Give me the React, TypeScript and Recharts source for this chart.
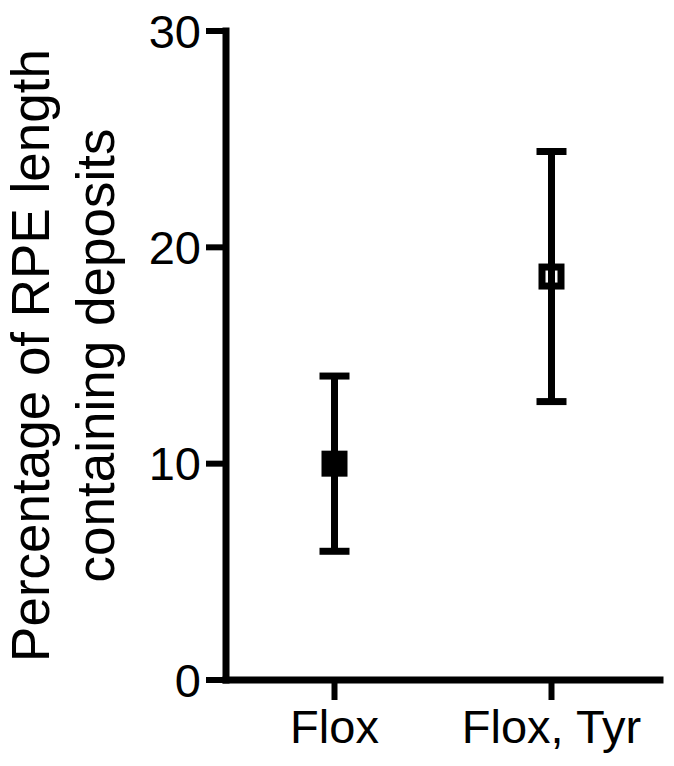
import React from 'react';
import { ComposedChart, Scatter, XAxis, YAxis, ErrorBar, Label } from 'recharts';

const categories = ['Flox', 'Flox, Tyr'];
const means = [10, 18.65];
const errors = [4.05, 5.78];
const filledMarker = [true, false];
const yTicks = [0, 10, 20, 30];
const titleLines = ['Percentage of RPE length', 'containing deposits'];

const data = categories.map((c, i) => ({
  group: c,
  mean: means[i],
  err: errors[i],
  filled: filledMarker[i],
}));

const FONT = '"Liberation Sans", Arial, Helvetica, sans-serif';

const SquareShape = (props: any) => {
  const { cx, cy, payload } = props;
  if (cx == null || cy == null) return null;
  if (payload.filled) {
    return <rect x={cx - 13} y={cy - 13} width={26} height={26} fill="#000" />;
  }
  return (
    <rect x={cx - 9.5} y={cy - 9.5} width={19} height={19} fill="none" stroke="#000" strokeWidth={7} />
  );
};

const TitleContent = (props: any) => {
  const vb = props.viewBox || { x: 0, y: 31, width: 226, height: 649 };
  const cy = vb.y + vb.height / 2;
  const xs = [49, 114];
  return (
    <g>
      {titleLines.map((t, i) => (
        <text
          key={i}
          x={xs[i]}
          y={cy}
          transform={`rotate(-90, ${xs[i]}, ${cy})`}
          textAnchor="middle"
          fontFamily={FONT}
          fontSize={53}
          fill="#000"
        >
          {t}
        </text>
      ))}
    </g>
  );
};

export default function App() {
  const axisLine = { stroke: '#000', strokeWidth: 7, strokeLinecap: 'square' as const };
  const tickLine = { stroke: '#000', strokeWidth: 6 };
  return (
    <div style={{ position: 'absolute', left: 0, top: 0, background: '#fff' }}>
      <ComposedChart
        width={674}
        height={766}
        data={data}
        margin={{ top: 31, right: 14, bottom: 6, left: 0 }}
      >
        <XAxis
          dataKey="group"
          type="category"
          scale="band"
          axisLine={axisLine}
          tickLine={tickLine}
          tickSize={20}
          tickMargin={10}
          height={80}
          tick={{ fill: '#000', fontSize: 47, fontFamily: FONT, width: 300 }}
          interval={0}
        />
        <YAxis
          type="number"
          domain={[0, 30]}
          ticks={yTicks}
          width={226}
          axisLine={axisLine}
          tickLine={tickLine}
          tickSize={20}
          tickMargin={5}
          tick={{ fill: '#000', fontSize: 47, fontFamily: FONT }}
          allowDataOverflow
        >
          <Label content={<TitleContent />} />
        </YAxis>
        <Scatter dataKey="mean" shape={<SquareShape />} isAnimationActive={false}>
          <ErrorBar dataKey="err" direction="y" width={15} strokeWidth={7} stroke="#000" isAnimationActive={false} />
        </Scatter>
      </ComposedChart>
    </div>
  );
}
